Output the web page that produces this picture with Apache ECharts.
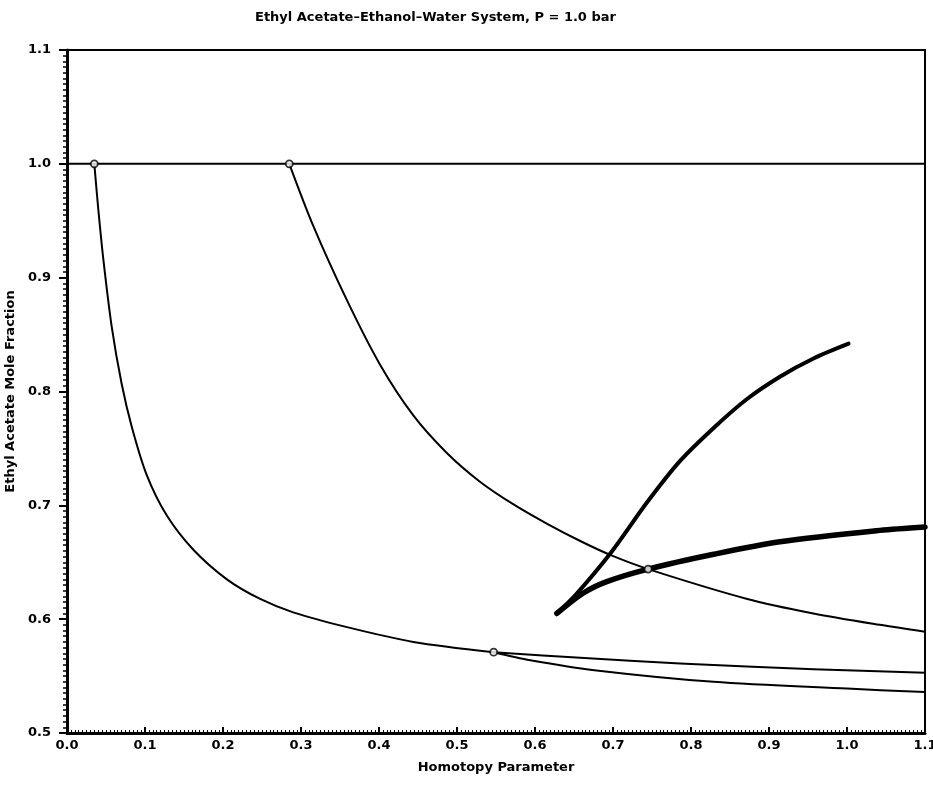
<!DOCTYPE html>
<html>
<head>
<meta charset="utf-8">
<script src="https://cdn.jsdelivr.net/npm/echarts@6/dist/echarts.min.js"></script>
<style>
  html, body { margin: 0; padding: 0; background: #fff; }
  #chart { width: 933px; height: 791px; }
</style>
</head>
<body>
<div id="chart"></div>
<script>
// homotopy parameter vs ethyl acetate mole fraction
const pureLine = [[0, 1.0], [1.1, 1.0]];

const leftCurve = [
  [0.035, 1.0], [0.040, 0.961], [0.0466, 0.916], [0.0573, 0.857], [0.070, 0.807],
  [0.083, 0.769], [0.102, 0.727], [0.128, 0.691], [0.162, 0.661], [0.205, 0.635],
  [0.247, 0.618], [0.290, 0.606], [0.359, 0.593], [0.444, 0.580], [0.547, 0.571]
];
const leftUpperBranch = [
  [0.547, 0.571], [0.658, 0.566], [0.786, 0.561], [0.957, 0.556], [1.1, 0.553]
];
const leftLowerBranch = [
  [0.547, 0.571], [0.594, 0.564], [0.679, 0.555], [0.829, 0.545], [1.0, 0.539], [1.1, 0.536]
];

const middleCurve = [
  [0.285, 1.0], [0.316, 0.945], [0.359, 0.880], [0.401, 0.824], [0.444, 0.779],
  [0.487, 0.746], [0.529, 0.721], [0.572, 0.701], [0.615, 0.684], [0.660, 0.668],
  [0.698, 0.656], [0.745, 0.644], [0.871, 0.618], [0.957, 0.605], [1.042, 0.595], [1.1, 0.589]
];

const thickLower = [
  [0.628, 0.605], [0.662, 0.623], [0.692, 0.633], [0.745, 0.644], [0.829, 0.657],
  [0.914, 0.668], [1.042, 0.678], [1.1, 0.681]
];
const thickUpper = [
  [0.628, 0.605], [0.653, 0.622], [0.698, 0.659], [0.743, 0.702], [0.786, 0.739],
  [0.829, 0.768], [0.871, 0.793], [0.914, 0.813], [0.957, 0.829], [1.002, 0.842]
];

const startPoints = [[0.035, 1.0], [0.285, 1.0], [0.547, 0.571], [0.745, 0.644]];

const chart = echarts.init(document.getElementById('chart'));

const labelFont = { fontFamily: 'DejaVu Sans', fontWeight: 'bold', fontSize: 13, color: '#000' };

function curve(data, width) {
  return {
    type: 'line',
    data: data,
    smooth: 0.3,
    showSymbol: false,
    silent: true,
    lineStyle: { color: '#000', width: width, cap: 'round', join: 'round' }
  };
}

const option = {
  backgroundColor: '#fff',
  animation: false,
  title: {
    text: 'Ethyl Acetate–Ethanol–Water System, P = 1.0 bar',
    left: 250,
    top: 6,
    textStyle: { ...labelFont, fontSize: 13 }
  },
  grid: {
    left: 67, right: 8, top: 50, bottom: 58,
    outerBoundsMode: 'none',
    containLabel: false,
    show: true, borderColor: '#000', borderWidth: 2, backgroundColor: 'transparent'
  },
  xAxis: {
    type: 'value',
    min: 0, max: 1.1, interval: 0.1,
    name: 'Homotopy Parameter',
    nameLocation: 'middle',
    nameGap: 28,
    nameTextStyle: labelFont,
    axisLine: { show: true, lineStyle: { color: '#000', width: 3 } },
    axisTick: { show: true, inside: true, length: 6, lineStyle: { color: '#000', width: 2 } },
    minorTick: { show: true, splitNumber: 20, length: 3, lineStyle: { color: '#000', width: 1 } },
    splitLine: { show: false },
    axisLabel: { ...labelFont, margin: 6, formatter: v => v.toFixed(1) }
  },
  yAxis: {
    type: 'value',
    min: 0.5, max: 1.1, interval: 0.1,
    name: 'Ethyl Acetate Mole Fraction',
    nameLocation: 'middle',
    nameGap: 43,
    nameTextStyle: labelFont,
    axisLine: { show: true, lineStyle: { color: '#000', width: 3 } },
    axisTick: { show: true, inside: false, length: 8, lineStyle: { color: '#000', width: 2 } },
    minorTick: { show: true, splitNumber: 20, length: 4, lineStyle: { color: '#000', width: 1.5 } },
    splitLine: { show: false },
    axisLabel: { ...labelFont, margin: 16, formatter: v => v.toFixed(1) }
  },
  series: [
    curve(pureLine, 2),
    curve(leftCurve, 2),
    curve(leftUpperBranch, 2),
    curve(leftLowerBranch, 2),
    curve(middleCurve, 2),
    curve(thickLower, 5.5),
    curve(thickUpper, 4),
    {
      type: 'scatter',
      data: startPoints,
      symbol: 'circle',
      symbolSize: 7,
      silent: true,
      z: 5,
      itemStyle: { color: '#fff', borderColor: '#000', borderWidth: 1.8 }
    }
  ]
};

chart.setOption(option);
</script>
</body>
</html>
